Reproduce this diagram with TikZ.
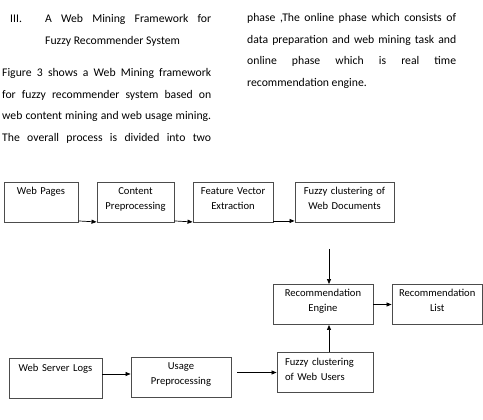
\documentclass[tikz,border=0pt]{standalone}
\usepackage{fontspec}
\setmainfont{Carlito}
\usetikzlibrary{arrows.meta, calc}
\newcommand{\parafont}{\fontsize{11.7}{13}\selectfont}
\newcommand{\blockfont}{\fontsize{10.6}{15}\selectfont}
\newcommand{\fullline}[2]{\makebox[#1][s]{#2}}
\tikzset{
    para/.style = {anchor=base west, inner sep=0pt, font=\parafont, text=black},
}
\tikzset{
    block/.style = {draw=black!70, line width=0.9pt, text width=#1, align=center,
        inner xsep=0pt, inner ysep=3pt, text height=9.5pt, text depth=24.5pt, font=\blockfont},
    flow/.style = {draw, line width=0.7pt, -{Triangle[length=5pt, width=4pt]}},
}

\begin{document}
\begin{tikzpicture}[x=1pt, y=-1pt]
    \useasboundingbox (0,0) rectangle (483,420);

    \node[para] (h1) at (10,23) {III.};
    \node[para] (h2) at (45,23) {\fullline{166pt}{A Web Mining Framework for}};
    \node[para] (h3) at (45,44.5) {Fuzzy Recommender System};

    \node[para] (p1) at (2,77) {\fullline{209pt}{Figure 3 shows a Web Mining framework}};
    \node[para] (p2) at (2,98.5) {\fullline{209pt}{for fuzzy recommender system based on}};
    \node[para] (p3) at (2,120) {\fullline{209pt}{web content mining and web usage mining.}};
    \node[para] (p4) at (2,141.5) {\fullline{209pt}{The overall process is divided into two}};

    \node[para] (q1) at (247,22) {\fullline{209pt}{phase ,The online phase which consists of}};
    \node[para] (q2) at (247,43.5) {\fullline{209pt}{data preparation and web mining task and}};
    \node[para] (q3) at (247,65) {\fullline{209pt}{online phase which is real time}};
    \node[para] (q4) at (247,86.5) {recommendation engine.};

    \node[block=74pt] (pages) at (41,202.5) {Web Pages};
    \node[block=77pt] (content) at (135.5,202.5) {Content\\Preprocessing};
    \node[block=80pt] (feature) at (233,202.5) {Feature Vector\\Extraction};
    \node[block=99pt] (docs) at (344.5,202.5) {Fuzzy clustering of\\Web Documents};

    \node[block=100pt] (engine) at (323,304.5) {Recommendation\\Engine};
    \node[block=90.5pt] (list) at (437.25,304.5) {Recommendation\\List};

    \node[block=80pt, align=left, inner xsep=8pt] (users) at (325,372.5) {Fuzzy clustering\\of Web Users};
    \node[block=93pt] (logs) at (55.5,378.5) {Web Server Logs};
    \node[block=100pt] (usage) at (181,377.5) {Usage\\Preprocessing};

    \coordinate (topin) at (329,249);

    \draw[flow] ([yshift=2pt]pages.south east) -- ([yshift=1pt]content.south west);
    \draw[flow] ([yshift=2pt]content.south east) -- ([yshift=1pt]feature.south west);
    \draw[flow] ([yshift=2pt]feature.south east) -- ([yshift=2pt]docs.south west);
    \draw[flow] (topin) -- (topin |- engine.north);
    \draw[flow] (users.north -| topin) -- (engine.south -| topin);
    \draw[flow] (engine) -- (list);
    \draw[flow] ([yshift=4.5pt]logs.east) -- ([yshift=3.5pt]usage.west);
    \draw[flow] ($(usage.east |- users.west)+(6,0)$) -- (users.west);
\end{tikzpicture}
\end{document}
